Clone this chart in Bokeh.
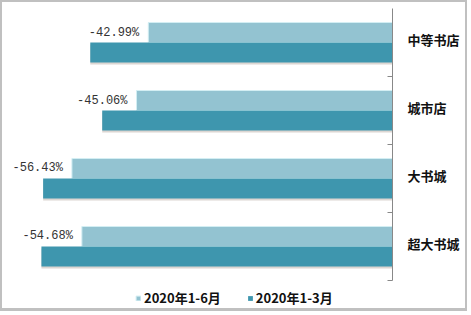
from bokeh.plotting import figure
from bokeh.models import (ColumnDataSource, Range1d, FixedTicker, LinearAxis,
                          Legend, LegendItem, LabelSet)
from bokeh.core.properties import value
from bokeh.embed import file_html
from bokeh.resources import INLINE

categories = ["中等书店", "城市店", "大书城", "超大书城"]
h1_values = [-42.99, -45.06, -56.43, -54.68]   # 2020年1-6月
q1_values = [-53.2, -51.1, -61.5, -61.8]       # 2020年1-3月
series_names = ["2020年1-6月", "2020年1-3月"]
label_texts = ["-42.99%", "-45.06%", "-56.43%", "-54.68%"]

n = len(categories)
centers = [n - 0.5 - i for i in range(n)]
bar_h = 0.294
label_lift = 0.045

src = ColumnDataSource(dict(
    cat=categories,
    h1=h1_values,
    q1=q1_values,
    y_h1=[c + bar_h / 2 for c in centers],
    y_q1=[c - bar_h / 2 for c in centers],
    y_sh=[c - bar_h / 2 - 0.03 for c in centers],
    lab=label_texts,
))

LIGHT = "#93c3d1"
DARK = "#3e96ae"

p = figure(width=467, height=311, output_backend="svg", toolbar_location=None,
           x_range=Range1d(-68.3, 0), y_range=Range1d(-0.456, n),
           x_axis_location=None, y_axis_location=None,
           min_border_left=2, min_border_top=6, min_border_right=77,
           min_border_bottom=2)
p.styles = {"border": "2px solid #c0c0c0", "border-bottom": "3px solid #c0c0c0"}
p.xgrid.visible = False
p.ygrid.visible = False
p.outline_line_color = None
p.background_fill_color = "white"
p.border_fill_color = "white"

# shadow under dark bars
p.hbar(y="y_sh", left="q1", right=0, height=bar_h, source=src,
       fill_color="#cdc4bf", line_color=None, fill_alpha=0.7)
r1 = p.hbar(y="y_h1", left="h1", right=0, height=bar_h, source=src,
            fill_color=LIGHT, line_color="#d3eef3", line_width=1)
r2 = p.hbar(y="y_q1", left="q1", right=0, height=bar_h, source=src,
            fill_color=DARK, line_color=None)

labels = LabelSet(x="h1", y="y_h1", text="lab", source=src, x_offset=-9,
                  text_align="right", text_baseline="middle",
                  text_font=value("Liberation Mono"), text_font_size="12px",
                  text_color="#333333")
p.add_layout(labels)

tick_pos = [c + label_lift for c in centers]
ax = LinearAxis(ticker=FixedTicker(ticks=tick_pos, minor_ticks=list(range(n))),
                major_label_overrides={t: c for t, c in zip(tick_pos, categories)},
                bounds=(0, n))
ax.axis_line_color = "#888888"
ax.major_tick_line_color = None
ax.minor_tick_line_color = "#888888"
ax.minor_tick_in = 5
ax.minor_tick_out = 0
ax.major_label_standoff = 9
ax.major_label_text_font = "Noto Sans CJK SC"
ax.major_label_text_font_style = "bold"
ax.major_label_text_font_size = "13px"
ax.major_label_text_color = "#111111"
p.add_layout(ax, "right")

legend = Legend(items=[LegendItem(label=series_names[0], renderers=[r1]),
                       LegendItem(label=series_names[1], renderers=[r2])],
                orientation="horizontal", location=(131, 4),
                glyph_width=6, glyph_height=6, label_standoff=3, spacing=26,
                label_height=18, padding=0, margin=0, border_line_color=None,
                background_fill_alpha=0,
                label_text_font="Noto Sans CJK SC", label_text_font_style="bold",
                label_text_font_size="13px", label_text_color="#111111")
p.add_layout(legend)

open("out.html", "w").write(file_html(p, INLINE))
